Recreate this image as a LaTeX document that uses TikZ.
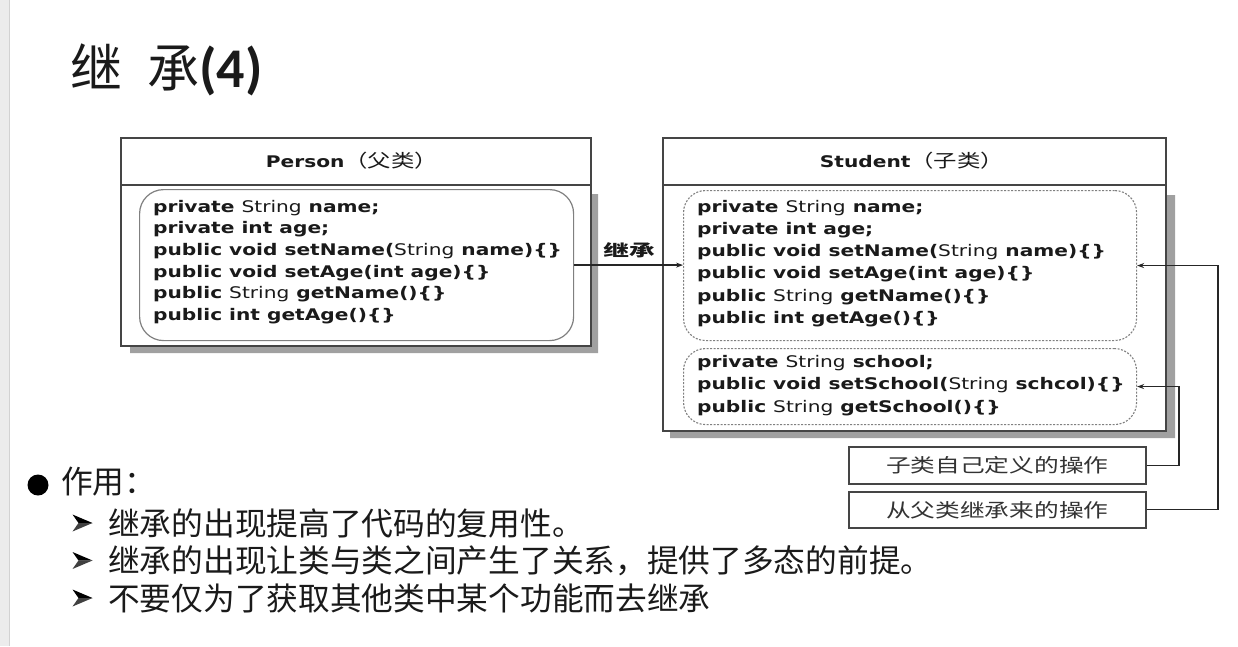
\documentclass[tikz,border=0pt]{standalone}
\usepackage{fontspec}
\usetikzlibrary{arrows.meta}
\newfontfamily\cjk{Noto Sans CJK SC}
\newfontfamily\cjkwide[FakeStretch=1.3]{Noto Sans CJK SC}
\newfontfamily\cjklabel[FakeStretch=1.6]{Noto Sans CJK SC}
\newfontfamily\codefont[FakeStretch=1.26]{DejaVu Sans}
\newfontfamily\titlelat{Carlito}
\newcommand\Str{{\mdseries String}}
\definecolor{boxline}{HTML}{454545}
\definecolor{innerline}{HTML}{808080}
\definecolor{shadowc}{HTML}{A0A0A0}
\definecolor{txt}{HTML}{1A1A1A}
\begin{document}
\begin{tikzpicture}[x=1pt,y=-1pt,
  umlbox/.style={draw=boxline,line width=1.6pt,fill=white,inner sep=0pt,anchor=north west},
  innersolid/.style={draw=innerline,line width=1.2pt,rounded corners=24pt,inner sep=0pt,anchor=north west},
  innerdash/.style={draw=innerline,line width=1.1pt,dash pattern=on 2pt off 1.5pt,rounded corners=22pt,inner sep=0pt,anchor=north west},
  code/.style={anchor=west,inner sep=0pt,text=txt,font=\codefont\bfseries\fontsize{16}{19}\selectfont},
  head/.style={inner sep=0pt,text=txt},
  opbox/.style={draw=boxline,line width=1.6pt,fill=white,inner sep=0pt,anchor=north west,text=black!80,font=\cjkwide\fontsize{19}{22}\selectfont},
  conn/.style={draw=black!85,line width=1.3pt,-{Stealth[length=7pt,width=5pt]}},
  plainline/.style={draw=boxline,line width=1.6pt},
  item/.style={anchor=west,inner sep=0pt,text=txt,font=\cjk\fontsize{31.7}{36}\selectfont},
  arrowmark/.style={inner sep=0pt,minimum width=21pt,minimum height=17pt,
    path picture={
      \fill[black] ([xshift=1pt]path picture bounding box.north west) -- (path picture bounding box.east) -- ([xshift=7pt]path picture bounding box.west) -- cycle;
      \fill[black!75] ([xshift=1pt]path picture bounding box.south west) -- (path picture bounding box.east) -- ([xshift=7pt]path picture bounding box.west) -- cycle;
    }},
]
\useasboundingbox (0,0) rectangle (1238,646);
\fill[white] (0,0) rectangle (1238,646);
\fill[gray!15] (0,0) rectangle (9,646);
\draw[gray!35,line width=0.8pt] (9,0) -- (9,646);

% title
\node[anchor=base west,inner sep=0pt,text=txt] (title) at (70,87)
  {\fontsize{52}{60}\selectfont\cjk 继\hspace{25pt}承{\titlelat\bfseries\fontsize{56}{60}\selectfont(4)}};

% Person box
\fill[shadowc] (590,194) -- (598,194) -- (598,353) -- (130,353) -- (130,345) -- (590,345) -- cycle;
\node[umlbox,minimum width=470,minimum height=208] (person) at (120,137) {};
\draw[plainline] (120,185) -- (590,185);
\node[head] (personhead) at (352,161)
  {{\codefont\bfseries\fontsize{16}{19}\selectfont Person}{\cjkwide\fontsize{18}{20}\selectfont （父类）}};
\node[innersolid,minimum width=434,minimum height=151] (pinner) at (139,189) {};
\foreach \t [count=\i] in {{private \Str{} name;},{private int age;},{public void setName(\Str{} name)\{\}},{public void setAge(int age)\{\}},{public \Str{} getName()\{\}},{public int getAge()\{\}}}
  \node[code] (p\i) at (153,{208+21.6*(\i-1)}) {\t};

% Student box
\fill[shadowc] (1165,195) -- (1175,195) -- (1175,438) -- (670,438) -- (670,430) -- (1165,430) -- cycle;
\node[umlbox,minimum width=503,minimum height=293] (student) at (662,137) {};
\draw[plainline] (662,185) -- (1165,185);
\node[head] (studenthead) at (912,161)
  {{\codefont\bfseries\fontsize{16}{19}\selectfont Student}{\cjkwide\fontsize{18}{20}\selectfont （子类）}};
\node[innerdash,minimum width=453,minimum height=150] (sinner1) at (683,190) {};
\node[innerdash,minimum width=453,minimum height=76] (sinner2) at (683,348) {};
\foreach \t [count=\i] in {{private \Str{} name;},{private int age;},{public void setName(\Str{} name)\{\}},{public void setAge(int age)\{\}},{public \Str{} getName()\{\}},{public int getAge()\{\}}}
  \node[code] (s\i) at (697,{208+22.2*(\i-1)}) {\t};
\node[code] (s7) at (697,363) {private \Str{} school;};
\node[code] (s8) at (697,385.5) {public void setSchool(\Str{} schcol)\{\}};
\node[code] (s9) at (697,408) {public \Str{} getSchool()\{\}};

% inheritance arrow
\draw[conn] (pinner.east) -- (pinner.east -| sinner1.west);
\node[inner sep=0pt,text=txt] (inh) at (629,250) {\cjklabel\bfseries\fontsize{16}{18}\selectfont 继承};

% operation boxes
\fill[shadowc] (850,448) rectangle (1147,485);
\fill[shadowc] (850,493) rectangle (1147,529);
\node[opbox,minimum width=297,minimum height=37] (op1) at (848,446) {子类自己定义的操作};
\node[opbox,minimum width=297,minimum height=36] (op2) at (848,491) {从父类继承来的操作};
\coordinate (c1) at (1179,0);
\coordinate (c2) at (1218,0);
\draw[conn] (op1.east) -| (c1 |- sinner2.east) -- (sinner2.east);
\draw[conn] (op2.east) -| (c2 |- sinner1.east) -- (sinner1.east);

% bottom list
\node[circle,fill=black,minimum size=21pt,inner sep=0pt] (dot) at (38,485) {};
\node[item] (zy) at (61,482) {作用：};
\foreach \t [count=\i] in {{继承的出现提高了代码的复用性。},{继承的出现让类与类之间产生了关系，提供了多态的前提。},{不要仅为了获取其他类中某个功能而去继承}} {
  \node[arrowmark] (ar\i) at (82,{523+37.5*(\i-1)}) {};
  \node[item] (it\i) at (108,{523+37.5*(\i-1)}) {\t};
}
\end{tikzpicture}
\end{document}
